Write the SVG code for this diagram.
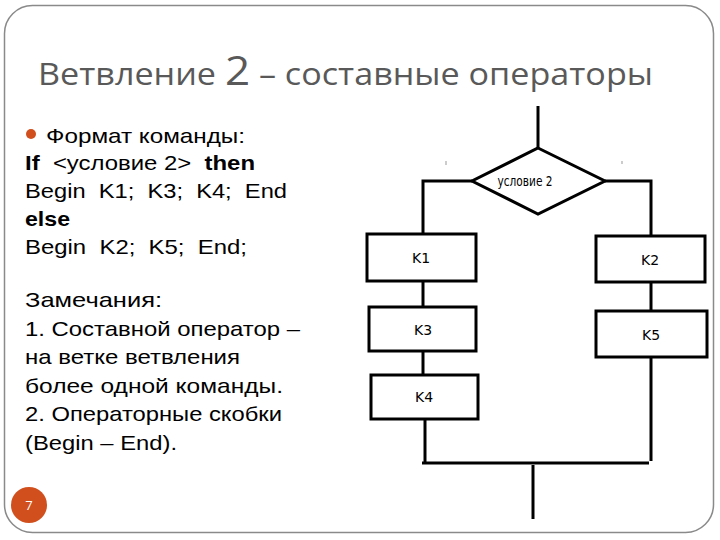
<svg xmlns="http://www.w3.org/2000/svg" width="720" height="540" viewBox="0 0 720 540">
<style>
.frame{fill:#fff;stroke:#8a8a8a;stroke-width:1.5}
.title{font-family:"Open Sans","Noto Sans",sans-serif;font-size:31px;fill:#595959}
.body{font-family:"Liberation Sans",Arial,sans-serif;font-size:21px;fill:#000}
.b{font-weight:bold}
.box{fill:#fff;stroke:#000;stroke-width:3}
.ln{fill:none;stroke:#000;stroke-width:3}
.lbl{font-family:"DejaVu Sans","Liberation Sans",sans-serif;font-size:14px;fill:#000;text-anchor:middle}
.tick{stroke:#999;stroke-width:1}
</style>
<rect class="frame" x="4.5" y="5.5" width="709" height="527" rx="28" ry="28"/>
<text class="title" x="38" y="85" textLength="615" lengthAdjust="spacingAndGlyphs">Ветвление <tspan font-size="40">2</tspan> – составные операторы</text>
<g id="text-left">
<circle cx="31" cy="134" r="5" fill="#d04f1c"/>
<text class="body" x="46" y="143" textLength="199" lengthAdjust="spacingAndGlyphs">Формат команды:</text>
<text class="body" x="25" y="170" textLength="230" lengthAdjust="spacingAndGlyphs" xml:space="preserve"><tspan class="b">If</tspan>  &lt;условие 2&gt;  <tspan class="b">then</tspan></text>
<text class="body" x="25" y="198" textLength="262" lengthAdjust="spacingAndGlyphs" xml:space="preserve">Begin  K1;  K3;  K4;  End</text>
<text class="body b" x="25" y="226" textLength="45" lengthAdjust="spacingAndGlyphs">else</text>
<text class="body" x="25" y="254" textLength="222" lengthAdjust="spacingAndGlyphs" xml:space="preserve">Begin  K2;  K5;  End;</text>
<text class="body" x="25" y="307" textLength="137" lengthAdjust="spacingAndGlyphs">Замечания:</text>
<text class="body" x="25" y="336" textLength="275" lengthAdjust="spacingAndGlyphs">1. Составной оператор –</text>
<text class="body" x="25" y="364" textLength="215" lengthAdjust="spacingAndGlyphs">на ветке ветвления</text>
<text class="body" x="25" y="393" textLength="258" lengthAdjust="spacingAndGlyphs">более одной команды.</text>
<text class="body" x="25" y="421" textLength="257" lengthAdjust="spacingAndGlyphs">2. Операторные скобки</text>
<text class="body" x="25" y="450" textLength="152" lengthAdjust="spacingAndGlyphs">(Begin – End).</text>
</g>
<g id="connectors">
<line class="ln" x1="538" y1="106" x2="538" y2="148"/>
<polyline class="ln" points="472,181 423,181 423,234"/>
<polyline class="ln" points="605,181 651,181 651,236"/>
<line class="ln" x1="423" y1="281" x2="423" y2="307"/>
<line class="ln" x1="423" y1="351" x2="423" y2="375"/>
<line class="ln" x1="425" y1="419" x2="425" y2="463"/>
<line class="ln" x1="651" y1="282" x2="651" y2="311"/>
<line class="ln" x1="651" y1="357" x2="651" y2="461"/>
<line class="ln" x1="422" y1="463" x2="649" y2="463"/>
<line class="ln" x1="533" y1="465" x2="533" y2="519"/>
<line class="tick" x1="446" y1="161" x2="446" y2="165"/>
<line class="tick" x1="622" y1="161" x2="622" y2="164"/>
</g>
<g id="cond">
<polygon class="box" points="538,148 605,181 538,214 472,181"/>
<text class="lbl" x="525" y="186" textLength="55" lengthAdjust="spacingAndGlyphs">условие 2</text>
</g>
<g id="k1"><rect class="box" x="367" y="234" width="109" height="47"/><text class="lbl" x="421" y="263">K1</text></g>
<g id="k2"><rect class="box" x="596" y="236" width="109" height="46"/><text class="lbl" x="650" y="265">K2</text></g>
<g id="k3"><rect class="box" x="369" y="307" width="107" height="44"/><text class="lbl" x="423" y="335">K3</text></g>
<g id="k4"><rect class="box" x="371" y="375" width="107" height="44"/><text class="lbl" x="424" y="402">K4</text></g>
<g id="k5"><rect class="box" x="596" y="311" width="111" height="46"/><text class="lbl" x="651" y="340">K5</text></g>
<g id="page">
<circle cx="29" cy="505" r="18" fill="#d04f1c"/>
<text x="29" y="510" font-family="'Open Sans','Liberation Sans',sans-serif" font-size="13" fill="#fff" text-anchor="middle">7</text>
</g>
</svg>
